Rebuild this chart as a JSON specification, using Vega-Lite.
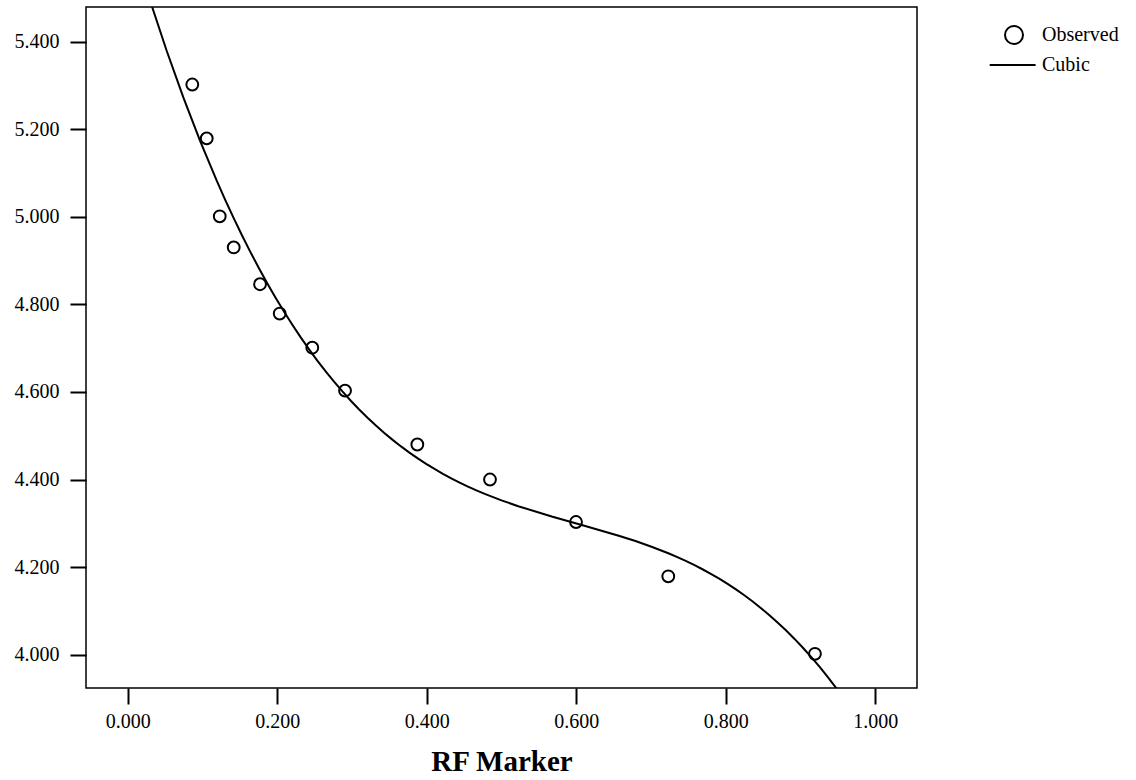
{
  "$schema": "https://vega.github.io/schema/vega-lite/v6.json",
  "width": 831,
  "height": 681,
  "autosize": {"type": "none"},
  "padding": {"left": 86, "top": 7, "right": 219, "bottom": 92},
  "background": "white",
  "config": {
    "font": "Liberation Serif",
    "view": {"stroke": "black", "strokeWidth": 1.5},
    "axis": {
      "grid": false,
      "domain": false,
      "tickColor": "black",
      "tickWidth": 2,
      "tickSize": 16,
      "labelFont": "Liberation Serif",
      "labelFontSize": 20,
      "labelColor": "black",
      "titleColor": "black"
    }
  },
  "data": {
    "values": [
      {"x": 0.0864, "y": 5.302, "series": "Observed"},
      {"x": 0.1057, "y": 5.179, "series": "Observed"},
      {"x": 0.1231, "y": 5.001, "series": "Observed"},
      {"x": 0.1418, "y": 4.930, "series": "Observed"},
      {"x": 0.1770, "y": 4.846, "series": "Observed"},
      {"x": 0.2033, "y": 4.779, "series": "Observed"},
      {"x": 0.2469, "y": 4.701, "series": "Observed"},
      {"x": 0.2907, "y": 4.603, "series": "Observed"},
      {"x": 0.3874, "y": 4.480, "series": "Observed"},
      {"x": 0.4846, "y": 4.400, "series": "Observed"},
      {"x": 0.5997, "y": 4.303, "series": "Observed"},
      {"x": 0.7231, "y": 4.179, "series": "Observed"},
      {"x": 0.9193, "y": 4.002, "series": "Observed"}
    ]
  },
  "layer": [
    {
      "transform": [
        {"regression": "y", "on": "x", "method": "poly", "order": 3, "extent": [-0.06, 1.06]}
      ],
      "mark": {"type": "line", "color": "black", "strokeWidth": 2, "clip": true},
      "encoding": {
        "x": {"field": "x", "type": "quantitative"},
        "y": {"field": "y", "type": "quantitative"}
      }
    },
    {
      "mark": {"type": "point", "filled": false, "color": "black", "strokeWidth": 2, "size": 140, "opacity": 1},
      "encoding": {
        "x": {
          "field": "x",
          "type": "quantitative",
          "scale": {"domain": [-0.0558, 1.0558], "nice": false, "zero": false},
          "axis": {
            "values": [0, 0.2, 0.4, 0.6, 0.8, 1.0],
            "format": ".3f",
            "labelPadding": 7,
            "title": "RF Marker",
            "titleFont": "Liberation Serif",
            "titleFontSize": 29,
            "titleFontWeight": "bold",
            "titlePadding": 16
          }
        },
        "y": {
          "field": "y",
          "type": "quantitative",
          "scale": {"domain": [3.924, 5.479], "nice": false, "zero": false},
          "axis": {
            "values": [4.0, 4.2, 4.4, 4.6, 4.8, 5.0, 5.2, 5.4],
            "format": ".3f",
            "labelPadding": 11,
            "title": null
          }
        },
        "shape": {
          "field": "series",
          "type": "nominal",
          "scale": {"domain": ["Observed", "Cubic"], "range": ["circle", "M-2.7,0H2.4"]},
          "legend": {
            "title": null,
            "orient": "none",
            "legendX": 918,
            "legendY": 18,
            "padding": 0,
            "symbolSize": 324,
            "symbolStrokeColor": "black",
            "symbolFillColor": "transparent",
            "symbolStrokeWidth": 2,
            "labelFont": "Liberation Serif",
            "labelFontSize": 20,
            "labelColor": "black",
            "labelOffset": 18,
            "rowPadding": 7
          }
        }
      }
    }
  ]
}
